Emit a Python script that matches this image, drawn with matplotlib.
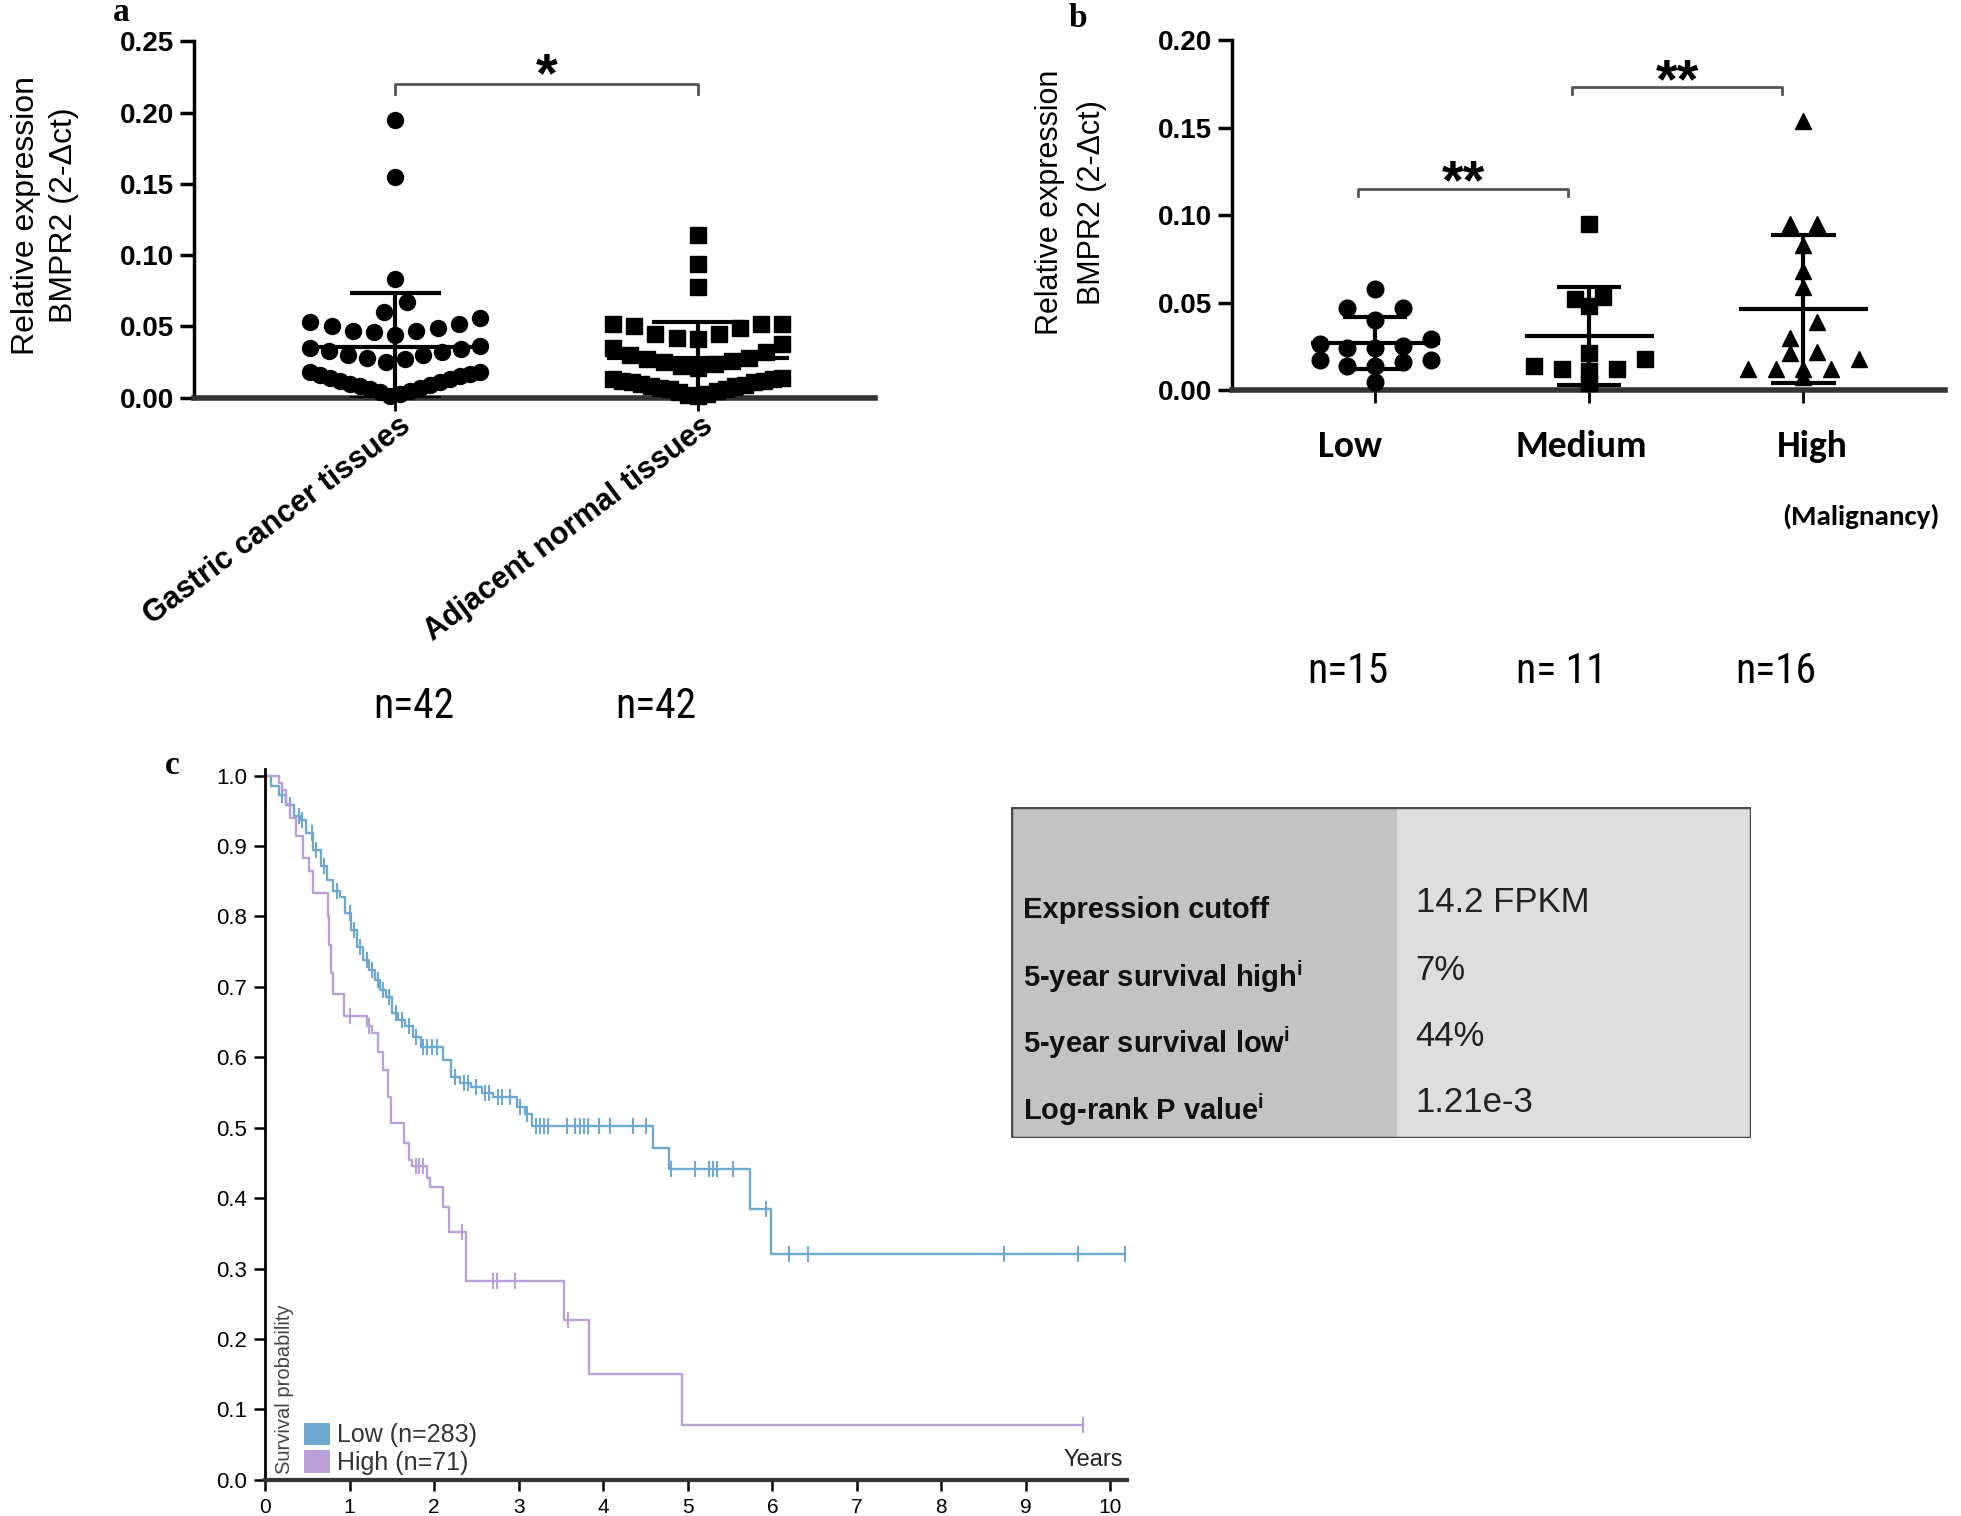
import numpy as np
import matplotlib
matplotlib.use('Agg')
import matplotlib.pyplot as plt
from matplotlib import font_manager
from matplotlib.patches import Rectangle, Patch
import matplotlib.transforms as mtrans

installed = {f.name for f in font_manager.fontManager.ttflist}


def pick(*names):
    for n in names:
        if n in installed:
            return n
    return 'DejaVu Sans'


ARIAL = pick('Liberation Sans', 'Arial')
NARROW = pick('Liberation Sans Narrow', 'Roboto Condensed', 'Open Sans Condensed', 'Lato')
CALIBRI = pick('Carlito', 'Lato')
SERIF = pick('Liberation Serif')

# ---- panel a: qPCR, cancer vs normal ----
a_groups = ['Gastric cancer tissues', 'Adjacent normal tissues']
a_counts = ['n=42', 'n=42']
a_cancer = [0.195, 0.155, 0.083, 0.067, 0.060,
            0.056, 0.053, 0.050, 0.047, 0.044, 0.046, 0.047, 0.049, 0.052,
            0.036, 0.034, 0.032, 0.030, 0.028, 0.025, 0.027, 0.030, 0.033, 0.035,
            0.018, 0.017, 0.015, 0.013, 0.011, 0.009, 0.007, 0.005, 0.003,
            0.001, 0.004, 0.006, 0.008, 0.010, 0.012, 0.014, 0.016, 0.018]
a_normal = [0.114, 0.094, 0.078,
            0.045, 0.041, 0.052, 0.050, 0.052, 0.052, 0.049, 0.042, 0.045,
            0.030, 0.027, 0.024, 0.022, 0.035, 0.038, 0.028, 0.026, 0.025, 0.032, 0.021,
            0.013, 0.012, 0.011, 0.010, 0.008, 0.007, 0.006, 0.004, 0.002, 0.001,
            0.003, 0.005, 0.006, 0.008, 0.009, 0.011, 0.012, 0.013, 0.014]
a_sig = [(0, 1, 0.220, '*')]

# ---- panel b: by malignancy ----
b_groups = ['Low', 'Medium', 'High']
b_counts = ['n=15', 'n= 11', 'n=16']
b_low = [0.0047, 0.058, 0.047, 0.047, 0.040, 0.0265, 0.024, 0.024, 0.029,
         0.017, 0.014, 0.017, 0.014, 0.016, 0.025]
b_medium = [0.095, 0.053, 0.052, 0.048, 0.021, 0.018, 0.014, 0.012, 0.011, 0.012, 0.004]
b_high = [0.1535, 0.095, 0.095, 0.083, 0.068, 0.059, 0.039, 0.030, 0.021, 0.022,
          0.018, 0.012, 0.012, 0.012, 0.012, 0.0076]
b_sig = [(0, 1, 0.115, '**'), (1, 2, 0.173, '**')]

# ---- panel c: Kaplan-Meier ----
low_t = [0.07, 0.16, 0.25, 0.34, 0.41, 0.48, 0.57, 0.66, 0.73, 0.80, 0.89, 0.95, 1.02,
         1.09, 1.16, 1.23, 1.30, 1.36, 1.43, 1.50, 1.57, 1.66, 1.75, 1.84, 2.11, 2.20,
         2.30, 2.43, 2.57, 2.70, 2.98, 3.07, 3.16, 4.59, 4.78, 5.73, 5.99]
low_s = [0.985, 0.973, 0.959, 0.942, 0.937, 0.918, 0.895, 0.871, 0.852, 0.836, 0.828,
         0.805, 0.781, 0.757, 0.738, 0.724, 0.710, 0.696, 0.686, 0.663, 0.653, 0.644,
         0.629, 0.615, 0.596, 0.572, 0.563, 0.558, 0.549, 0.544, 0.530, 0.520, 0.502,
         0.471, 0.441, 0.385, 0.321]
low_cens = [0.20, 0.30, 0.40, 0.44, 0.55, 0.60, 0.70, 0.85, 1.00, 1.05, 1.12, 1.20,
            1.26, 1.33, 1.40, 1.46, 1.55, 1.62, 1.70, 1.78, 1.87, 1.92, 1.97, 2.03,
            2.25, 2.35, 2.40, 2.50, 2.60, 2.65, 2.75, 2.80, 2.90, 3.02, 3.10,
            3.20, 3.25, 3.30, 3.35, 3.57, 3.67, 3.72, 3.77, 3.82, 3.95, 4.08, 4.35, 4.50,
            4.80, 5.08, 5.25, 5.30, 5.35, 5.54, 5.92, 6.20, 6.42, 8.74, 9.62, 10.17]
high_t = [0.16, 0.20, 0.25, 0.30, 0.36, 0.45, 0.52, 0.57, 0.74, 0.76, 0.78, 0.80, 0.93,
          1.20, 1.27, 1.34, 1.39, 1.45, 1.49, 1.64, 1.70, 1.74, 1.92, 1.95, 2.11, 2.17,
          2.38, 3.53, 3.83, 4.93]
high_s = [0.990, 0.980, 0.960, 0.940, 0.914, 0.883, 0.864, 0.833, 0.800, 0.760, 0.720,
          0.690, 0.658, 0.644, 0.634, 0.608, 0.582, 0.544, 0.506, 0.478, 0.454, 0.445,
          0.428, 0.416, 0.388, 0.352, 0.282, 0.2265, 0.1507, 0.0773]
high_cens = [1.00, 1.23, 1.78, 1.82, 1.87, 2.33, 2.70, 2.74, 2.95, 3.58, 9.67]
km_labels = ['Low (n=283)', 'High (n=71)']
km_colors = ['#6fa8d0', '#b9a0d8']

table_labels = ['Expression cutoff', '5-year survival high$^\\mathregular{i}$',
                '5-year survival low$^\\mathregular{i}$', 'Log-rank P value$^\\mathregular{i}$']
table_values = ['14.2 FPKM', '7%', '44%', '1.21e-3']


def swarm(vals, binw, step, maxhalf):
    vals = np.asarray(vals, dtype=float)
    off = np.zeros(len(vals))
    bins = np.floor(vals / binw + 1e-9).astype(int)
    for b in np.unique(bins):
        idx = np.where(bins == b)[0]
        idx = idx[np.argsort(vals[idx], kind='stable')]
        n = len(idx)
        d = step if n < 2 else min(step, 2 * maxhalf / (n - 1))
        if n % 2:
            slots = [0] + [s * k for k in range(1, n // 2 + 1) for s in (-1, 1)]
        else:
            slots = [s * (k - 0.5) for k in range(1, n // 2 + 1) for s in (-1, 1)]
        off[idx] = np.array(slots[:n]) * d
    return off


def dotplot(ax, groups, markers, binw, step, maxhalf, ms):
    for i, (vals, mk) in enumerate(zip(groups, markers)):
        x = i + swarm(vals, binw, step, maxhalf)
        ax.plot(x, vals, mk, ls='none', color='black', ms=ms, clip_on=False, zorder=3)
        m = np.mean(vals)
        s = np.std(vals, ddof=1)
        lo = max(m - s, 0.0)
        ax.hlines(m, i - 0.3, i + 0.3, color='black', lw=3, zorder=4)
        ax.vlines(i, lo, m + s, color='black', lw=3, zorder=4)
        ax.hlines([lo, m + s], i - 0.15, i + 0.15, color='black', lw=3, zorder=4)


def style_dot_axes(ax, ymax, ncat):
    for sp in ['top', 'right']:
        ax.spines[sp].set_visible(False)
    ax.spines['left'].set_linewidth(2.5)
    ax.spines['bottom'].set_linewidth(4)
    ax.spines['bottom'].set_color('#333333')
    ax.set_ylim(0, ymax)
    yt = np.arange(0, ymax + 1e-9, 0.05)
    ax.set_yticks(yt)
    ax.set_yticklabels(['%.2f' % v for v in yt], fontfamily=ARIAL, fontweight='bold', fontsize=20)
    ax.set_xticks(range(ncat))
    ax.set_xticklabels([])
    ax.tick_params(axis='y', direction='out', length=10, width=2.5, pad=4)
    ax.tick_params(axis='x', direction='out', length=9, width=2)


def sig_bars(ax, sigs, dl, dr, tick, fs, gap=19):
    for i, j, y, lab in sigs:
        ax.plot([i + dl, i + dl, j + dr, j + dr], [y - tick, y, y, y - tick],
                color='#555555', lw=2, clip_on=False)
        # put the centre of the asterisk glyph about `gap` points above the bar
        ax.annotate(lab, ((i + dl + j + dr) / 2, y), xytext=(0, gap - 0.6 * fs),
                    textcoords='offset points', ha='center', va='baseline',
                    fontsize=fs, fontweight='bold', fontfamily=ARIAL)


fig = plt.figure(figsize=(19.61, 15.16), dpi=100)

# ---------- a ----------
ax_a = fig.add_axes([0.0989, 0.7376, 0.3475, 0.2352])
dotplot(ax_a, [a_cancer, a_normal], ['o', 's'], 0.02, 0.075, 0.28, 11.5)
style_dot_axes(ax_a, 0.25, 2)
ax_a.set_xlim(-0.665, 1.587)
sig_bars(ax_a, a_sig, 0, 0, 0.007, 40)
tr_a = mtrans.blended_transform_factory(ax_a.transData, ax_a.transAxes)
for i, lab in enumerate(a_groups):
    ax_a.text(i + 0.04, -0.07, lab, transform=tr_a, rotation=37, rotation_mode='anchor',
              ha='right', va='center', fontsize=22, fontweight='bold', fontfamily=ARIAL)
for i, lab in enumerate(a_counts):
    ax_a.text(0.06 + 0.8 * i, -0.867, lab, transform=tr_a, ha='center', va='center',
              fontsize=30, fontfamily=NARROW)
ax_a.text(-0.218, 0.512, 'Relative expression\nBMPR2 (2-\u0394ct)', transform=ax_a.transAxes,
          rotation=90, ha='center', va='center', fontsize=23, fontfamily=ARIAL,
          linespacing=1.35)

# ---------- b ----------
ax_b = fig.add_axes([0.6282, 0.7426, 0.3635, 0.2310])
dotplot(ax_b, [b_low, b_medium, b_high], ['o', 's', '^'], 0.01, 0.13, 0.3, 12)
style_dot_axes(ax_b, 0.20, 3)
ax_b.set_xlim(-0.67, 2.66)
sig_bars(ax_b, b_sig, -0.08, -0.1, 0.004, 40, gap=17)
tr_b = mtrans.blended_transform_factory(ax_b.transData, ax_b.transAxes)
for i, lab in enumerate(b_groups):
    ax_b.text(1.08 * i - 0.12, -0.16, lab, transform=tr_b, ha='center', va='center',
              fontsize=27, fontweight='bold', fontfamily=CALIBRI)
ax_b.text(2.27, -0.36, '(Malignancy)', transform=tr_b, ha='center', va='center',
          fontsize=21, fontweight='bold', fontfamily=CALIBRI)
for i, lab in enumerate(b_counts):
    ax_b.text(i - 0.13, -0.804, lab, transform=tr_b, ha='center', va='center',
              fontsize=30, fontfamily=NARROW)
ax_b.text(-0.226, 0.536, 'Relative expression\nBMPR2 (2-\u0394ct)', transform=ax_b.transAxes,
          rotation=90, ha='center', va='center', fontsize=22, fontfamily=ARIAL,
          linespacing=1.5)

# ---------- c ----------
ax_c = fig.add_axes([0.1352, 0.0239, 0.4397, 0.4691])
for t, s, cens, col in [(low_t, low_s, low_cens, km_colors[0]),
                        (high_t, high_s, high_cens, km_colors[1])]:
    tt = np.r_[0.0, t, max(cens)]
    ss = np.r_[1.0, s, s[-1]]
    ax_c.step(tt, ss, where='post', color=col, lw=1.7, clip_on=False)
    sc = np.r_[1.0, s][np.searchsorted(t, cens, side='right')]
    ax_c.plot(cens, sc, '|', color=col, ms=11, mew=1.5, ls='none', clip_on=False)
ax_c.set_xlim(0, 10.2)
ax_c.set_ylim(0, 1.01)
for sp in ['top', 'right']:
    ax_c.spines[sp].set_visible(False)
ax_c.spines['left'].set_linewidth(2)
ax_c.spines['bottom'].set_linewidth(3)
ax_c.spines['bottom'].set_color('#333333')
ax_c.set_xticks(range(11))
ax_c.set_xticklabels([str(v) for v in range(11)], fontfamily=ARIAL, fontsize=15)
yt = np.round(np.arange(0, 1.01, 0.1), 1)
ax_c.set_yticks(yt)
ax_c.set_yticklabels(['%.1f' % v for v in yt], fontfamily=ARIAL, fontsize=16)
ax_c.tick_params(direction='out', length=8, width=1.8, pad=5)
ax_c.text(0.023, 0.008, 'Survival probability', transform=ax_c.transAxes, rotation=90,
          ha='center', va='bottom', fontsize=14.5, fontfamily=ARIAL, color='#444444')
ax_c.text(0.995, 0.012, 'Years', transform=ax_c.transAxes, ha='right', va='bottom',
          fontsize=17, fontfamily=ARIAL, color='#222222')
handles = [Patch(facecolor=c, edgecolor='none') for c in km_colors]
ax_c.legend(handles, km_labels, loc='lower left', bbox_to_anchor=(0.025, -0.018),
            frameon=False, handlelength=1.05, handleheight=1.0, handletextpad=0.25,
            labelspacing=0.12, borderpad=0.2, prop={'family': ARIAL, 'size': 18},
            labelcolor='#333333')

# table
ax_t = fig.add_axes([0.5153, 0.2492, 0.3776, 0.2186])
ax_t.set_xlim(0, 1)
ax_t.set_ylim(0, 1)
ax_t.axis('off')
ax_t.add_patch(Rectangle((0, 0), 0.522, 1, facecolor='#c3c3c3', edgecolor='none'))
ax_t.add_patch(Rectangle((0.522, 0), 0.478, 1, facecolor='#dedede', edgecolor='none'))
ax_t.add_patch(Rectangle((0, 0), 1, 1, facecolor='none', edgecolor='#4a4a4a', lw=2.5))
row_y = [0.69, 0.487, 0.287, 0.087]
for y, lab, val in zip(row_y, table_labels, table_values):
    ax_t.text(0.017, y, lab, ha='left', va='center', fontsize=21, fontweight='bold',
              fontfamily=ARIAL, color='#111111')
    ax_t.text(0.547, y + 0.02, val, ha='left', va='center', fontsize=25,
              fontfamily=ARIAL, color='#222222')

# panel letters
fig.text(0.062, 0.992, 'a', fontsize=24, fontweight='bold', fontfamily=SERIF, ha='center', va='center')
fig.text(0.5497, 0.988, 'b', fontsize=24, fontweight='bold', fontfamily=SERIF, ha='center', va='center')
fig.text(0.088, 0.495, 'c', fontsize=24, fontweight='bold', fontfamily=SERIF, ha='center', va='center')

fig.savefig('out.png', dpi=100)
